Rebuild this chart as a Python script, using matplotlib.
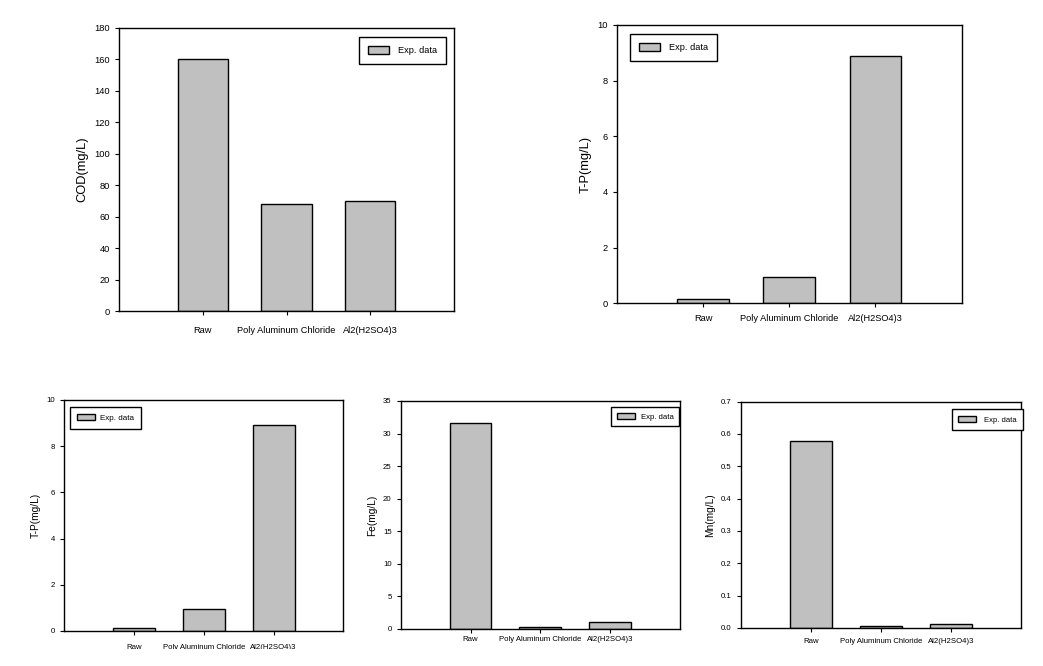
import matplotlib
matplotlib.use('Agg')
import matplotlib.pyplot as plt
from matplotlib.patches import Rectangle

plt.rcParams['font.family'] = ['Liberation Sans', 'DejaVu Sans']

categories = ['Raw', 'Poly Aluminum Chloride', 'Al2(H2SO4)3']
cod = [160, 68, 70]
tp_top = [0.14, 0.93, 8.87]
tp_bottom = [0.13, 0.95, 8.9]
fe = [31.6, 0.25, 1.0]
mn = [0.577, 0.006, 0.011]

bar_color = '#c0c0c0'
pos = [1, 2, 3]


def panel(rect, values, ylabel, ylim, yticks, leg_loc, leg_anchor,
          fs_tick, fs_label, fs_leg, bp, htp, xpad):
    ax = fig.add_axes(rect)
    ax.bar(pos, values, width=0.6, color=bar_color, edgecolor='black',
           linewidth=1.0, label='Exp. data')
    ax.set_xlim(0, 4)
    ax.set_ylim(*ylim)
    ax.set_yticks(yticks)
    ax.set_xticks(pos)
    ax.set_xticklabels(categories)
    ax.tick_params(axis='both', direction='out', length=3, width=0.8,
                   labelsize=fs_tick)
    ax.tick_params(axis='x', pad=xpad)
    ax.set_ylabel(ylabel, fontsize=fs_label)
    for s in ax.spines.values():
        s.set_linewidth(1.0)
    leg = ax.legend(loc=leg_loc, bbox_to_anchor=leg_anchor, fontsize=fs_leg,
                    fancybox=False, edgecolor='black', framealpha=1,
                    handlelength=2.3, handleheight=0.9, borderpad=bp,
                    handletextpad=htp, borderaxespad=0)
    leg.get_frame().set_linewidth(1.0)
    return ax


fig = plt.figure(figsize=(10.43, 6.66), dpi=100)

panel([0.1141, 0.533, 0.3212, 0.425], cod, 'COD(mg/L)', (0, 180),
      range(0, 181, 20), 'upper right', (0.975, 0.968),
      6.7, 9.3, 6.7, 0.95, 0.9, 8)
panel([0.5913, 0.5446, 0.3308, 0.4179], tp_top, 'T-P(mg/L)', (0, 10),
      range(0, 11, 2), 'upper left', (0.0386, 0.967),
      6.7, 9.3, 6.7, 0.95, 0.9, 5)
panel([0.0617, 0.0526, 0.2675, 0.3468], tp_bottom, 'T-P(mg/L)', (0, 10),
      range(0, 11, 2), 'upper left', (0.0204, 0.971),
      5.6, 7.3, 5.8, 0.85, 0.6, 6.5)
panel([0.3842, 0.0556, 0.2678, 0.3423], fe, 'Fe(mg/L)', (0, 35),
      range(0, 36, 5), 'upper right', (0.9975, 0.972),
      5.6, 7.3, 5.6, 0.7, 0.8, 2)
panel([0.7102, 0.0571, 0.2685, 0.3398], mn, 'Mn(mg/L)', (0, 0.7),
      [0, 0.1, 0.2, 0.3, 0.4, 0.5, 0.6, 0.7], 'upper right', (1.007, 0.966),
      5.6, 7.3, 5.5, 0.85, 1.0, 4)

# the source picture is cropped just under the bottom-left labels
fig.patches.append(Rectangle((0, 0), 0.34, 17 / 666, transform=fig.transFigure,
                             facecolor='white', edgecolor='none', zorder=10))

fig.savefig('out.png', dpi=100)
